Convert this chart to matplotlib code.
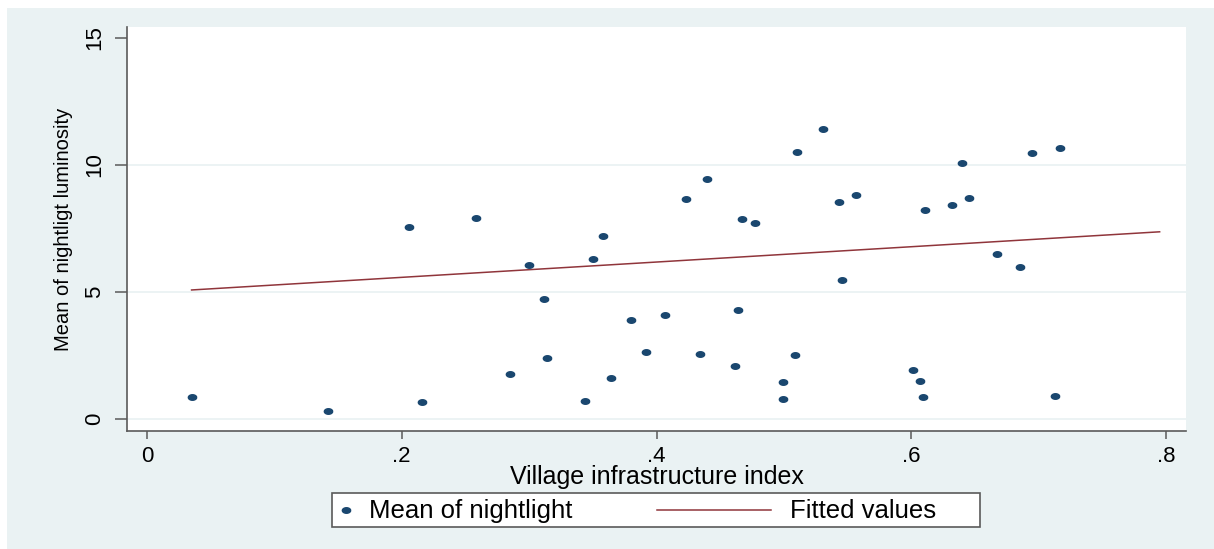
import numpy as np
import matplotlib
matplotlib.use("Agg")
import matplotlib.pyplot as plt
from matplotlib.patches import Rectangle
from matplotlib.lines import Line2D

plt.rcParams['font.family'] = ['Liberation Sans', 'DejaVu Sans']

# data
infra = [0.035, 0.142, 0.206, 0.216, 0.258, 0.285, 0.300, 0.312, 0.314, 0.344,
         0.350, 0.358, 0.364, 0.380, 0.392, 0.407, 0.423, 0.434, 0.440, 0.462,
         0.464, 0.467, 0.477, 0.499, 0.499, 0.509, 0.510, 0.531, 0.543, 0.546,
         0.557, 0.601, 0.607, 0.609, 0.611, 0.632, 0.640, 0.645, 0.667, 0.685,
         0.695, 0.713, 0.717]
light = [0.87, 0.31, 7.56, 0.67, 7.91, 1.77, 6.06, 4.72, 2.40, 0.71,
         6.30, 7.20, 1.61, 3.90, 2.64, 4.09, 8.66, 2.56, 9.45, 2.09,
         4.29, 7.87, 7.72, 1.46, 0.79, 2.52, 10.51, 11.42, 8.53, 5.46,
         8.83, 1.92, 1.50, 0.87, 8.24, 8.44, 10.08, 8.69, 6.51, 5.97,
         10.47, 0.92, 10.66]
fit_x = [0.035, 0.795]
fit_y = [5.08, 7.37]

xticks = [0, 0.2, 0.4, 0.6, 0.8]
xticklabels = ['0', '.2', '.4', '.6', '.8']
yticks = [0, 5, 10, 15]
ygrid = [0, 5, 10]

navy = '#1A476F'
maroon = '#90353B'
bg = '#EAF2F3'
axcol = '#5A5A5A'

W, H = 1214, 549
fig = plt.figure(figsize=(W / 100, H / 100), dpi=100)
fig.patch.set_facecolor('white')

def fx(p):
    return p / W

def fy(p):
    return 1 - p / H

# graph region
fig.add_artist(Rectangle((fx(7), 0), 1 - fx(7), fy(8), transform=fig.transFigure,
                         facecolor=bg, edgecolor='none', zorder=0))

ax = fig.add_axes([fx(127), fy(431), fx(1186) - fx(127), fy(27) - fy(431)])
ax.set_facecolor('white')
ax.set_xlim(-0.0157, 0.8157)
ax.set_ylim(-0.472, 15.433)

for g in ygrid:
    ax.axhline(g, color=bg, lw=1.3, zorder=1)

# slightly wide dots, like the stretched original
t = np.linspace(0, 2 * np.pi, 30)
ell = np.c_[1.5 * np.cos(t), np.sin(t)]
ax.plot(infra, light, ls='none', marker=ell, ms=6, color=navy, mec=navy, zorder=3)
ax.plot(fit_x, fit_y, color=maroon, lw=1.1, zorder=2)

for s in ['top', 'right']:
    ax.spines[s].set_visible(False)
for s in ['left', 'bottom']:
    ax.spines[s].set_color(axcol)
    ax.spines[s].set_linewidth(1.2)

ax.set_xticks(xticks)
ax.set_xticklabels(xticklabels)
ax.set_yticks(yticks)
ax.tick_params(axis='x', length=5.5, width=1.1, color=axcol, pad=5, labelsize=16)
ax.tick_params(axis='y', length=9, width=1.1, color=axcol, pad=7, labelsize=16)
for lab in ax.get_yticklabels():
    lab.set_rotation(90)
    lab.set_va('center')

ax.set_xlabel('Village infrastructure index', fontsize=18, labelpad=-1)
ax.set_ylabel('Mean of nightligt luminosity', fontsize=14.5, labelpad=8)

# legend box
fig.add_artist(Rectangle((fx(332), fy(527)), fx(980) - fx(332), fy(493) - fy(527),
                         transform=fig.transFigure, facecolor='white',
                         edgecolor=axcol, lw=1.2, zorder=5))
fig.add_artist(Line2D([fx(346)], [fy(510)], transform=fig.transFigure, ls='none',
                      marker=ell, ms=6, color=navy, zorder=6))
fig.text(fx(369), fy(511), 'Mean of nightlight', fontsize=18.5, va='center', ha='left', zorder=6)
fig.add_artist(Line2D([fx(657), fx(771)], [fy(510), fy(510)], transform=fig.transFigure,
                      color=maroon, lw=1.1, zorder=6))
fig.text(fx(790), fy(511), 'Fitted values', fontsize=18.5, va='center', ha='left', zorder=6)

fig.savefig('out.png', dpi=100)
